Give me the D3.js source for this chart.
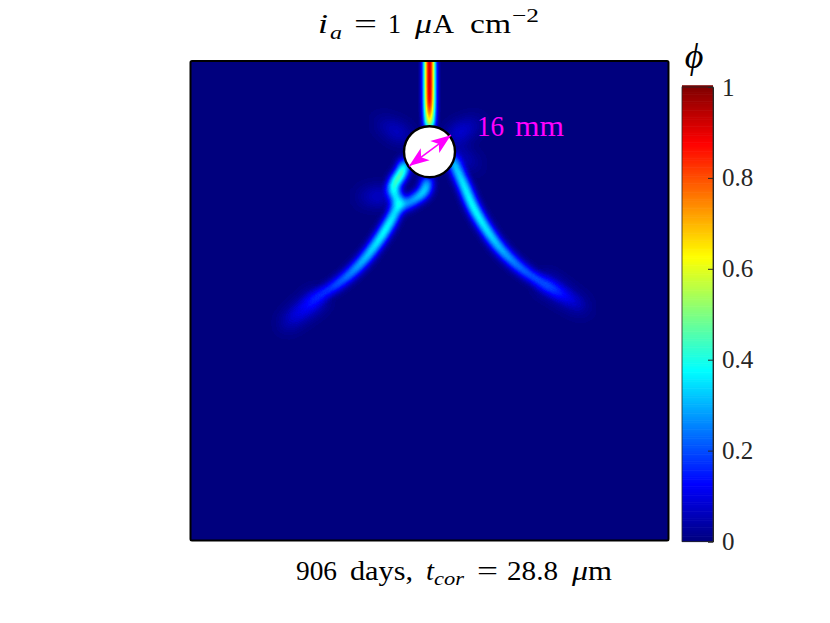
<!DOCTYPE html>
<html>
<head>
<meta charset="utf-8">
<script src="https://cdn.jsdelivr.net/npm/d3@7"></script>
<style>
	html, body { margin: 0; background: #fff; }
	svg { display: block; }
	text { font-family: "Liberation Serif", serif; }
	.axis-phi text { font-size: 25px; fill: #262626; font-family: "Liberation Serif", serif; }
	.axis-phi path, .axis-phi line { stroke: #262626; }
	.seg { mix-blend-mode: lighten; fill: none; stroke-linecap: round; }
</style>
</head>
<body>
<svg id="chart"></svg>
<script>
// plate coordinates in mm
const topX = [0, 0, 0, 0, 0, 0, 0, 0];
const topY = [153, 150, 144, 139.5, 136.5, 134, 132, 130];
const topPhi = [0.84, 0.84, 0.84, 0.82, 0.75, 0.62, 0.52, 0.42];

const rightX = [7.1, 8.6, 10.5, 13.7, 18, 22.1, 27.5, 32.5, 37.8, 43.1, 47.2];
const rightY = [119.8, 116.3, 112.2, 104.7, 97.4, 91.8, 86.4, 82.7, 79.5, 76.4, 74];
const rightPhi = [0.28, 0.3, 0.34, 0.36, 0.33, 0.28, 0.22, 0.18, 0.14, 0.07, 0.03];

const leftX = [-7.6, -9.1, -11, -11.4, -9.9, -10.8, -13.3, -16.5, -20.9, -25.3, -30.3, -34.4, -38.4, -43.1];
const leftY = [118.5, 114.7, 112.2, 109.7, 106.8, 103.1, 98.4, 93.4, 87.7, 83.3, 79.5, 77, 73.9, 69.8];
const leftPhi = [0.32, 0.44, 0.38, 0.34, 0.3, 0.32, 0.36, 0.33, 0.28, 0.22, 0.17, 0.12, 0.07, 0.04];

const loopX = [-0.8, -1.4, -4.5, -8.3];
const loopY = [113.1, 109.7, 107.2, 105];
const loopPhi = [0.28, 0.31, 0.27, 0.2];

// faint blue rays around the hole and diffuse crack tips
const haloX = [[-8.3, -15.5], [8, 14.9], [8.3, 14.3], [-14, -21.2], [-35, -45], [36, 48]];
const haloY = [[127.2, 131.3], [127.2, 131.3], [121, 117.8], [108.1, 107.8], [76, 68], [81, 73]];
const haloPhi = [[0.08, 0.02], [0.1, 0.02], [0.07, 0.02], [0.09, 0.02], [0.13, 0.05], [0.11, 0.04]];

const holeX = 0;
const holeY = 122;
const holeD = 16;
const arrowX = [-6.4, 6.7];
const arrowY = [117.5, 127.2];

const jetStops = [0, 0.125, 0.375, 0.625, 0.875, 1];
const jetColors = ["#00007f", "#0000ff", "#00ffff", "#ffff00", "#ff0000", "#7f0000"];
const phiTicks = [0, 0.2, 0.4, 0.6, 0.8, 1];

const svg = d3.select("#chart").attr("width", 830).attr("height", 623);
const plate = { l: 190.5, r: 668.5, t: 61, b: 540.5 };
const bar = { l: 682, r: 713, t: 87, b: 541.5 };

const scaleX = d3.scaleLinear().domain([-75, 75]).range([plate.l, plate.r]);
const scaleY = d3.scaleLinear().domain([0, 150]).range([plate.b, plate.t + 1.5]);
const scalePhi = d3.scaleLinear().domain([0, 1]).range([bar.b, bar.t]);
const jet = d3.scaleLinear().domain(jetStops).range(jetColors);

// blurred peak of the thin stroke, used to bring it back to phi in the colour table
const crackWidth = 6;
const haloWidth = 10;
const peak = 0.525;
// the top crack stays tighter than the branches, so each layer has its own gain
const topGain = 0.9;
const branchGain = 1.08;

const defs = svg.append("defs");
defs.append("clipPath").attr("id", "plate-clip").append("rect")
	.attr("x", plate.l).attr("y", plate.t)
	.attr("width", plate.r - plate.l).attr("height", plate.b - plate.t);

function addFilter(id) {
	return defs.append("filter").attr("id", id)
		.attr("filterUnits", "userSpaceOnUse")
		.attr("x", plate.l - 30).attr("y", plate.t - 30)
		.attr("width", plate.r - plate.l + 60).attr("height", plate.b - plate.t + 60)
		.attr("color-interpolation-filters", "sRGB");
}
addFilter("blur-top").append("feGaussianBlur").attr("stdDeviation", 3.7);
addFilter("blur-crack").append("feGaussianBlur").attr("stdDeviation", 4.6);
addFilter("blur-halo").append("feGaussianBlur").attr("stdDeviation", 8);

const tableRange = d3.range(0, 256).map((i) => d3.rgb(jet(Math.min(1, i / 255 / peak))));
const transfer = addFilter("phi-field").append("feComponentTransfer");
transfer.append("feFuncR").attr("type", "table").attr("tableValues", tableRange.map((c) => (c.r / 255).toFixed(4)).join(" "));
transfer.append("feFuncG").attr("type", "table").attr("tableValues", tableRange.map((c) => (c.g / 255).toFixed(4)).join(" "));
transfer.append("feFuncB").attr("type", "table").attr("tableValues", tableRange.map((c) => (c.b / 255).toFixed(4)).join(" "));

const plateG = svg.append("g").attr("clip-path", "url(#plate-clip)");
const fieldG = plateG.append("g").attr("filter", "url(#phi-field)").style("isolation", "isolate");
fieldG.append("rect")
	.attr("x", plate.l - 30).attr("y", plate.t - 30)
	.attr("width", plate.r - plate.l + 60).attr("height", plate.b - plate.t + 60)
	.attr("fill", "#000");
function addLayer(filterId) {
	return fieldG.append("g").attr("filter", `url(#${filterId})`)
		.style("mix-blend-mode", "lighten").style("isolation", "isolate");
}
const haloG = addLayer("blur-halo");
const topG = addLayer("blur-top");
const crackG = addLayer("blur-crack");

const line = d3.line().curve(d3.curveCatmullRom.alpha(0.5));

// one crack is cut into short pieces so that phi can change along it
function drawCrack(g, xs, ys, phis, width, gain) {
	const pts = xs.map((x, i) => [scaleX(x), scaleY(ys[i])]);
	const path = g.append("path").attr("d", line(pts)).attr("fill", "none");
	const total = path.node().getTotalLength();
	let run = 0;
	const runs = pts.map((p, i) => {
		if (i > 0) run += Math.hypot(p[0] - pts[i - 1][0], p[1] - pts[i - 1][1]);
		return run;
	});
	const phiAt = d3.scaleLinear().domain(runs.map((r) => (r / run) * total)).range(phis);
	const step = 2;
	for (let s = 0; s < total; s += step) {
		const a = path.node().getPointAtLength(s);
		const b = path.node().getPointAtLength(Math.min(total, s + step));
		const v = Math.round(phiAt(s) * gain * 255);
		g.append("line").attr("class", "seg")
			.attr("x1", a.x).attr("y1", a.y).attr("x2", b.x).attr("y2", b.y)
			.attr("stroke", `rgb(${v},${v},${v})`)
			.attr("stroke-width", width);
	}
	path.remove();
}

haloX.forEach((xs, i) => {
	drawCrack(haloG, xs, haloY[i], haloPhi[i], haloWidth, 1);
});
drawCrack(topG, topX, topY, topPhi, crackWidth, topGain);
drawCrack(crackG, rightX, rightY, rightPhi, crackWidth, branchGain);
drawCrack(crackG, leftX, leftY, leftPhi, crackWidth, branchGain);
drawCrack(crackG, loopX, loopY, loopPhi, crackWidth, branchGain);

// hole
const radius = scaleX(holeD / 2) - scaleX(0);
svg.append("circle")
	.attr("cx", scaleX(holeX)).attr("cy", scaleY(holeY)).attr("r", radius)
	.attr("fill", "#fff").attr("stroke", "#000").attr("stroke-width", 2.4);

// plate frame
svg.append("rect")
	.attr("x", plate.l).attr("y", plate.t)
	.attr("width", plate.r - plate.l).attr("height", plate.b - plate.t)
	.attr("rx", 1.5)
	.attr("fill", "none").attr("stroke", "#000").attr("stroke-width", 2);

// diameter arrow
const ax0 = scaleX(arrowX[0]), ay0 = scaleY(arrowY[0]);
const ax1 = scaleX(arrowX[1]), ay1 = scaleY(arrowY[1]);
const angle = (Math.atan2(ay1 - ay0, ax1 - ax0) * 180) / Math.PI;
svg.append("line")
	.attr("x1", ax0).attr("y1", ay0).attr("x2", ax1).attr("y2", ay1)
	.attr("stroke", "#ff00ff").attr("stroke-width", 1.5);
[[ax1, ay1, angle], [ax0, ay0, angle + 180]].forEach(([x, y, r]) => {
	svg.append("path")
		.attr("d", "M0,0L-20,-7.5L-15,0L-20,7.5Z")
		.attr("transform", `translate(${x},${y}) rotate(${r})`)
		.attr("fill", "#ff00ff");
});

// each piece of typeset text is placed and stretched to the width it has in the picture
function piece(txt, x, w, y, size, italic, color) {
	svg.append("text")
		.attr("x", x).attr("y", y)
		.attr("font-size", size)
		.attr("font-style", italic ? "italic" : "normal")
		.attr("fill", color || "#000")
		.attr("textLength", w).attr("lengthAdjust", "spacingAndGlyphs")
		.text(txt);
}

piece("16", 477, 27, 136, 29, false, "#ff00ff");
piece("mm", 515, 49, 136, 29, false, "#ff00ff");

// colour bar
const barLevels = d3.range(0, 256).map((i) => i / 255);
svg.append("g").selectAll("rect").data(barLevels).join("rect")
	.attr("x", bar.l).attr("width", bar.r - bar.l)
	.attr("y", (d) => scalePhi(d) - (bar.b - bar.t) / 255)
	.attr("height", (bar.b - bar.t) / 255 + 0.6)
	.attr("fill", (d) => jet(d));
svg.append("rect")
	.attr("x", bar.l).attr("y", bar.t)
	.attr("width", bar.r - bar.l).attr("height", bar.b - bar.t)
	.attr("fill", "none").attr("stroke", "#262626").attr("stroke-width", 0.8);
const axisPhi = d3.axisRight(scalePhi).tickValues(phiTicks).tickFormat((d) => d).tickSize(-5).tickPadding(9);
svg.append("g").attr("class", "axis-phi").attr("transform", `translate(${bar.r},0)`).call(axisPhi);

svg.append("text")
	.attr("x", 694).attr("y", 68)
	.attr("text-anchor", "middle")
	.attr("font-size", 36).attr("font-style", "italic")
	.text("\u03d5");

// title
piece("i", 318, 10, 33, 27, true);
piece("a", 330, 12, 39, 19, true);
piece("=", 354, 23, 33, 27, false);
piece("1", 388, 13, 33, 27, false);
piece("\u03bc", 415, 17, 33, 27, true);
piece("A", 433, 21, 33, 27, false);
piece("cm", 470, 41, 33, 27, false);
piece("\u22122", 512, 27, 22, 19, false);

// caption
piece("906", 296, 41, 580, 27, false);
piece("days,", 350, 63, 580, 27, false);
piece("t", 426, 8, 580, 27, true);
piece("cor", 434, 30, 585, 19, true);
piece("=", 477, 21, 580, 27, false);
piece("28.8", 507, 51, 580, 27, false);
piece("\u03bc", 572, 16, 580, 27, true);
piece("m", 588, 24, 580, 27, false);
</script>
</body>
</html>
